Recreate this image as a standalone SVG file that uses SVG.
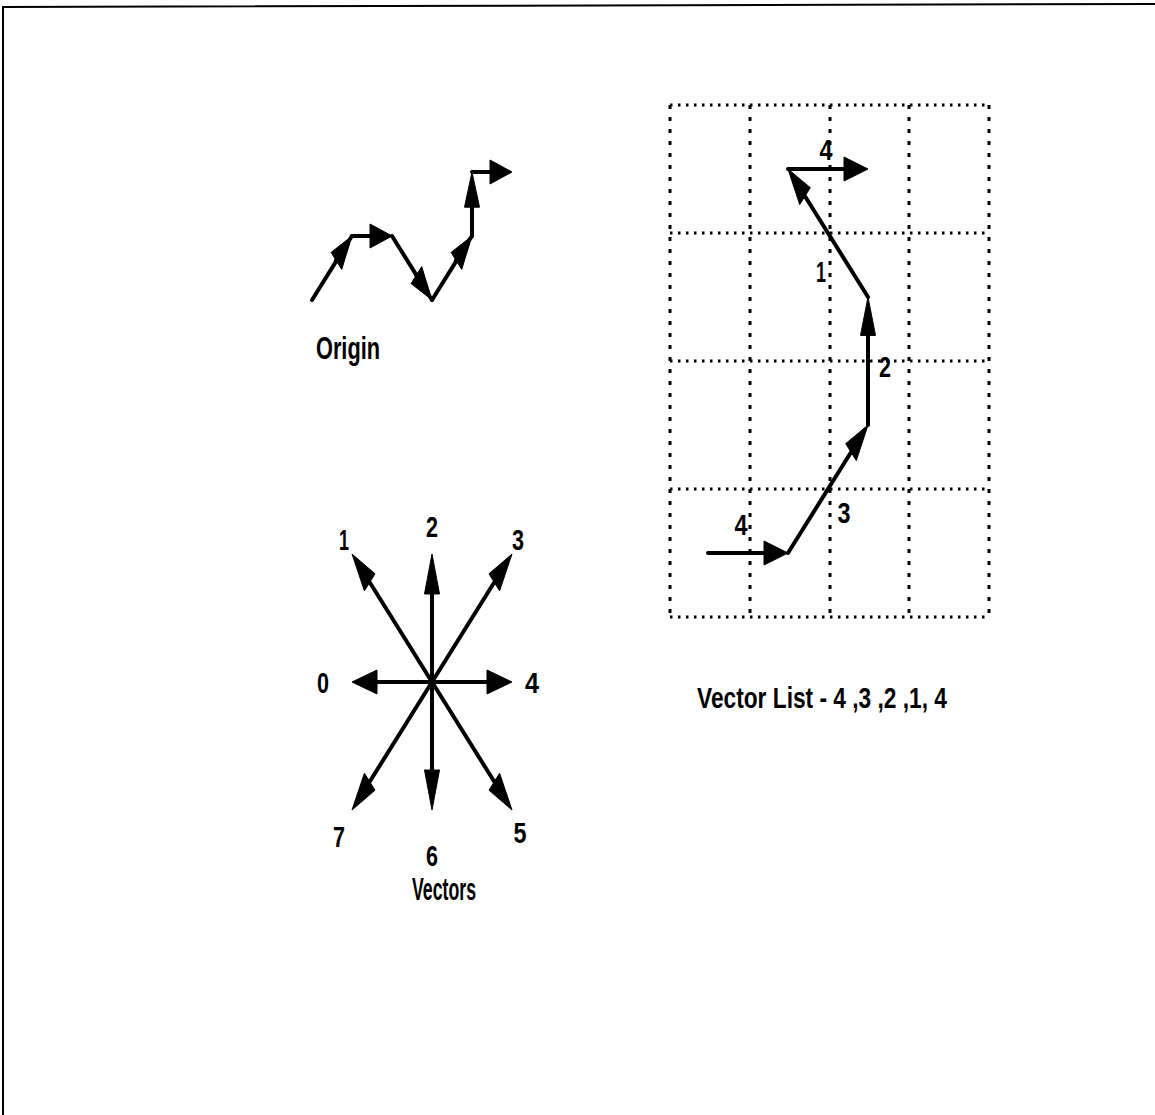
<svg xmlns="http://www.w3.org/2000/svg" width="1155" height="1115" viewBox="0 0 1155 1115">
<style>
.ln{stroke:#000;stroke-width:4;fill:none;stroke-linecap:round;stroke-linejoin:round}
.hd{fill:#000;stroke:#000;stroke-width:1;stroke-linejoin:miter}
.t{font-family:"Liberation Sans",Arial,sans-serif;font-weight:bold;fill:#000}
.d{font-size:30px;text-anchor:middle}
.gh{stroke:#000;stroke-width:3;stroke-dasharray:2.5 5.5;fill:none}
.gv{stroke:#000;stroke-width:3;stroke-dasharray:4 8;fill:none}
</style>
<rect x="0" y="0" width="1155" height="1115" fill="#fff"/>
<g id="border">
<polyline points="1155,4 3,7 3,1115" fill="none" stroke="#000" stroke-width="2"/>
</g>

<g id="origin-chain">
<line class="ln" x1="312" y1="300" x2="336.4" y2="260.9"/>
<line class="ln" x1="352" y1="236" x2="370" y2="236"/>
<line class="ln" x1="336" y1="260" x2="352" y2="236"/>
<line class="ln" x1="392" y1="236" x2="416.4" y2="275.1"/>
<line class="ln" x1="416" y1="275" x2="432" y2="300"/>
<line class="ln" x1="432" y1="300" x2="456.4" y2="260.9"/>
<line class="ln" x1="456" y1="260" x2="472" y2="236"/>
<line class="ln" x1="472" y1="236" x2="472" y2="207"/>
<line class="ln" x1="472" y1="172" x2="490" y2="172"/>
<polygon class="hd" points="352,236 341.7,269.4 331.1,252.4"/>
<polygon class="hd" points="392,236 370,224 370,248"/>
<polygon class="hd" points="432,300 421.7,266.6 411.1,283.6"/>
<polygon class="hd" points="472,236 461.7,269.4 451.1,252.4"/>
<polygon class="hd" points="472,172 464.5,207.2 479.5,207.2"/>
<polygon class="hd" points="512,172 490,160 490,184"/>
<text class="t" x="316" y="359" font-size="32" textLength="64" lengthAdjust="spacingAndGlyphs">Origin</text>
</g>

<g id="grid">
<line class="gh" x1="670" y1="105" x2="990" y2="105"/>
<line class="gh" x1="670" y1="233" x2="990" y2="233"/>
<line class="gh" x1="670" y1="361" x2="990" y2="361"/>
<line class="gh" x1="670" y1="489" x2="990" y2="489"/>
<line class="gh" x1="670" y1="617" x2="990" y2="617"/>
<line class="gv" x1="670" y1="105" x2="670" y2="617"/>
<line class="gv" x1="750" y1="105" x2="750" y2="617"/>
<line class="gv" x1="830" y1="105" x2="830" y2="617"/>
<line class="gv" x1="909" y1="105" x2="909" y2="617"/>
<line class="gv" x1="989" y1="105" x2="989" y2="617"/>
</g>

<g id="vector-path">
<line class="ln" x1="708" y1="553" x2="764" y2="553"/>
<line class="ln" x1="788" y1="553" x2="851" y2="452.2"/>
<line class="ln" x1="868" y1="425" x2="868" y2="335.4"/>
<line class="ln" x1="868" y1="297" x2="805" y2="196.2"/>
<line class="ln" x1="788" y1="169" x2="844" y2="169"/>
<polygon class="hd" points="788,553 764,541 764,565"/>
<polygon class="hd" points="868,425 856.3,460.6 845.7,443.7"/>
<polygon class="hd" points="868,297 860.5,335.4 875.5,335.4"/>
<polygon class="hd" points="788,169 810.3,187.7 799.7,204.6"/>
<polygon class="hd" points="868,169 844,157 844,181"/>
<text class="t d" x="826" y="160" textLength="13" lengthAdjust="spacingAndGlyphs">4</text>
<text class="t d" x="821" y="282" textLength="10" lengthAdjust="spacingAndGlyphs">1</text>
<text class="t d" x="885" y="377" textLength="12" lengthAdjust="spacingAndGlyphs">2</text>
<text class="t d" x="844" y="523" textLength="13" lengthAdjust="spacingAndGlyphs">3</text>
<text class="t d" x="741" y="535" textLength="13" lengthAdjust="spacingAndGlyphs">4</text>
<text class="t" x="697" y="708" font-size="30" textLength="250" lengthAdjust="spacingAndGlyphs">Vector List - 4 ,3 ,2 ,1, 4</text>
</g>

<g id="compass">
<line class="ln" x1="432" y1="682" x2="432" y2="594"/>
<line class="ln" x1="432" y1="682" x2="432" y2="770"/>
<line class="ln" x1="432" y1="682" x2="377" y2="682"/>
<line class="ln" x1="432" y1="682" x2="487" y2="682"/>
<line class="ln" x1="432" y1="682" x2="369.7" y2="582.3"/>
<line class="ln" x1="432" y1="682" x2="494.3" y2="582.3"/>
<line class="ln" x1="432" y1="682" x2="369.7" y2="781.7"/>
<line class="ln" x1="432" y1="682" x2="494.3" y2="781.7"/>
<polygon class="hd" points="432,554 424.5,594 439.5,594"/>
<polygon class="hd" points="432,810 424.5,770 439.5,770"/>
<polygon class="hd" points="352,682 377,670 377,694"/>
<polygon class="hd" points="512,682 487,670 487,694"/>
<polygon class="hd" points="352,554 375,573.8 364.4,590.8"/>
<polygon class="hd" points="512,554 499.6,590.8 489,573.8"/>
<polygon class="hd" points="352,810 375,790.2 364.4,773.2"/>
<polygon class="hd" points="512,810 499.6,773.2 489,790.2"/>
<text class="t d" x="344" y="550" textLength="10" lengthAdjust="spacingAndGlyphs">1</text>
<text class="t d" x="432" y="537" textLength="12" lengthAdjust="spacingAndGlyphs">2</text>
<text class="t d" x="518" y="550" textLength="12" lengthAdjust="spacingAndGlyphs">3</text>
<text class="t d" x="323" y="693" textLength="12" lengthAdjust="spacingAndGlyphs">0</text>
<text class="t d" x="532" y="693" textLength="14" lengthAdjust="spacingAndGlyphs">4</text>
<text class="t d" x="339" y="847" textLength="12" lengthAdjust="spacingAndGlyphs">7</text>
<text class="t d" x="432" y="866" textLength="12" lengthAdjust="spacingAndGlyphs">6</text>
<text class="t d" x="520" y="843" textLength="13" lengthAdjust="spacingAndGlyphs">5</text>
<text class="t" x="412" y="900" font-size="32" textLength="64" lengthAdjust="spacingAndGlyphs">Vectors</text>
</g>
</svg>
